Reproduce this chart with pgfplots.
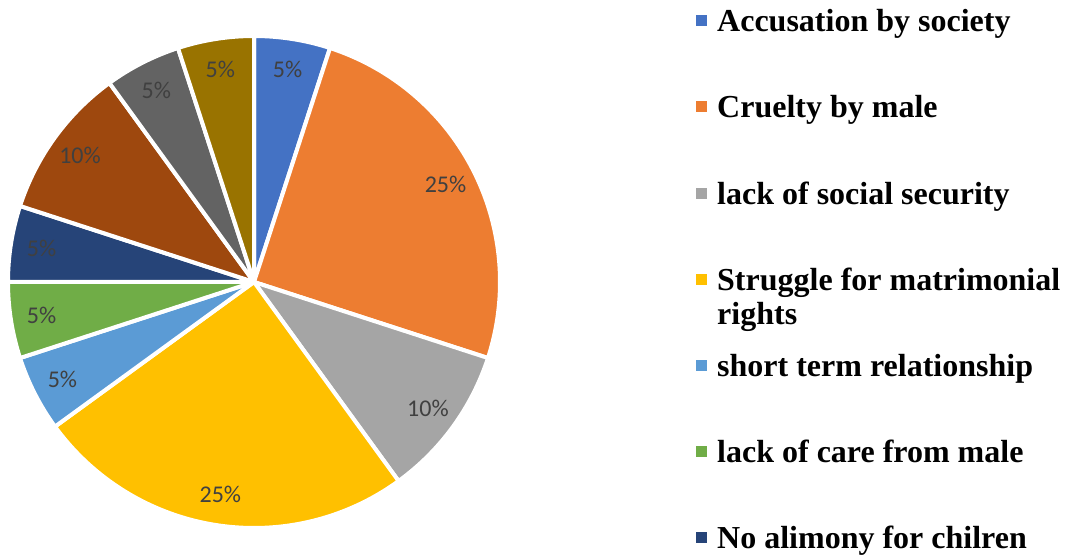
\documentclass[border=0pt]{standalone}
\usepackage{pgfplots}
\pgfplotsset{compat=1.18}
\usepackage{fontspec}
\setmainfont{Liberation Serif}
\newfontfamily\lblfont{Carlito}
\definecolor{s1}{HTML}{4472C4}
\definecolor{s2}{HTML}{ED7D31}
\definecolor{s3}{HTML}{A5A5A5}
\definecolor{s4}{HTML}{FFC000}
\definecolor{s5}{HTML}{5B9BD5}
\definecolor{s6}{HTML}{70AD47}
\definecolor{s7}{HTML}{264478}
\definecolor{s8}{HTML}{9E480E}
\definecolor{s9}{HTML}{636363}
\definecolor{s10}{HTML}{997300}
\definecolor{lbl}{HTML}{404040}
% #1 start angle, #2 percent, #3 colour
\newcommand{\pieslice}[3]{%
  \fill[#3, draw=white, line width=4pt, line join=round]
    (axis cs:254,275) -- ++(#1:246pt) arc[start angle=#1, delta angle={-3.6*#2}, radius=246pt] -- cycle;}
\newcommand{\pielabel}[2]{%
  \path (axis cs:254,275) ++({#1-1.8*#2}:215pt) node[text=lbl, font=\lblfont\fontsize{24}{27}\selectfont] {#2\%};}
\newcommand{\legitem}[3]{%
  \fill[#1] (axis cs:696,#2+5.5) rectangle (axis cs:707,#2+16.5);
  \node[anchor=base west, inner sep=0pt, font=\bfseries\fontsize{32}{36}\selectfont] at (axis cs:717,#2) {#3};}
\begin{document}
\begin{tikzpicture}
\begin{axis}[
  width=1066pt, height=557pt, scale only axis,
  xmin=0, xmax=1066, ymin=0, ymax=557,
  hide axis, clip=false, enlargelimits=false]
\path (axis cs:0,0) rectangle (axis cs:1066,557);
% slices: start angle, percent, colour
\pieslice{90}{5}{s1}
\pieslice{72}{25}{s2}
\pieslice{-18}{10}{s3}
\pieslice{-54}{25}{s4}
\pieslice{-144}{5}{s5}
\pieslice{-162}{5}{s6}
\pieslice{-180}{5}{s7}
\pieslice{-198}{10}{s8}
\pieslice{-234}{5}{s9}
\pieslice{-252}{5}{s10}
\pielabel{90}{5}
\pielabel{72}{25}
\pielabel{-18}{10}
\pielabel{-54}{25}
\pielabel{-144}{5}
\pielabel{-162}{5}
\pielabel{-180}{5}
\pielabel{-198}{10}
\pielabel{-234}{5}
\pielabel{-252}{5}
% legend
\legitem{s1}{525}{Accusation by society}
\legitem{s2}{439}{Cruelty by male}
\legitem{s3}{352}{lack of social security}
\legitem{s4}{266}{Struggle for matrimonial}
\node[anchor=base west, inner sep=0pt, font=\bfseries\fontsize{32}{36}\selectfont] at (axis cs:717,232) {rights};
\legitem{s5}{180}{short term relationship}
\legitem{s6}{94}{lack of care from male}
\legitem{s7}{8}{No alimony for chilren}
\end{axis}
\end{tikzpicture}
\end{document}
